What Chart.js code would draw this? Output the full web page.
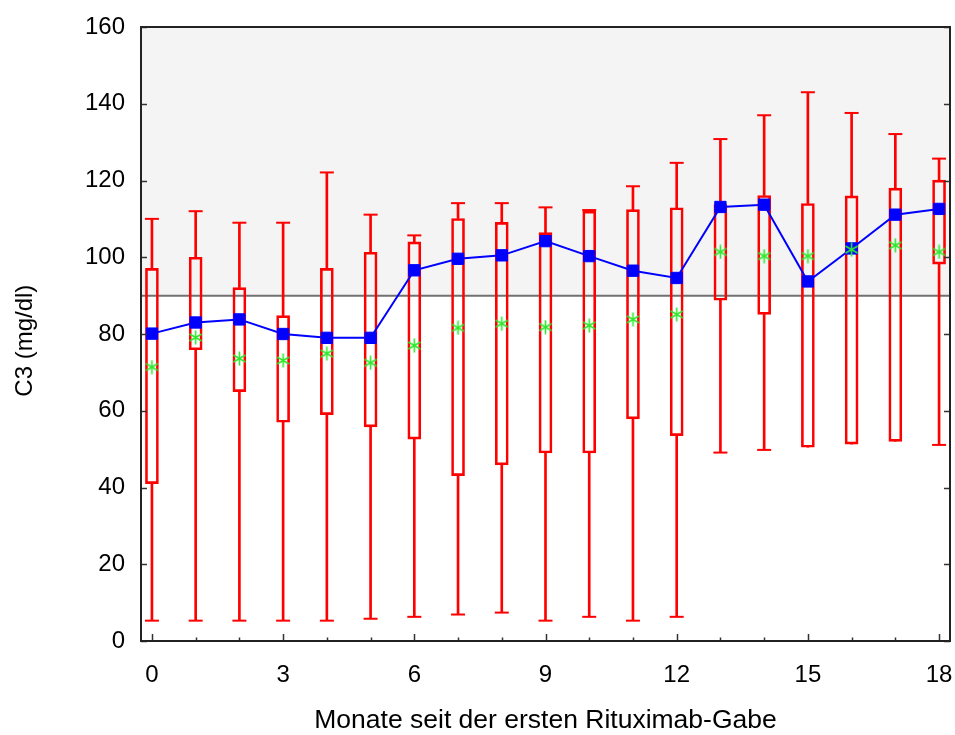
<!DOCTYPE html>
<html>
<head>
<meta charset="utf-8">
<script src="https://cdn.jsdelivr.net/npm/chart.js@4.4.0/dist/chart.umd.min.js"></script>
<style>
html,body{margin:0;padding:0;background:#ffffff;}
#wrap{width:955px;height:735px;}
</style>
</head>
<body>
<div id="wrap"><canvas id="c" width="955" height="735"></canvas></div>
<script>
// ---- data ----
const months       = [0,1,2,3,4,5,6,7,8,9,10,11,12,13,14,15,16,17,18];
const whiskerHigh  = [110.0,112.0,109.0,109.0,122.1,111.1,105.7,114.1,114.1,113.0,112.3,118.5,124.6,130.8,137.0,143.0,137.6,132.1,125.7];
const q3           = [97.1,100.0,92.1,84.8,97.1,101.3,104.0,110.1,109.1,106.4,112.0,112.4,112.9,113.7,116.1,114.0,116.0,118.0,120.1];
const median       = [80.1,83.0,83.8,80.0,79.0,79.0,96.6,99.6,100.5,104.2,100.3,96.5,94.6,113.1,113.7,93.7,102.3,111.1,112.6];
const mean         = [71.4,79.1,73.6,73.1,74.9,72.5,77.0,81.6,82.7,81.8,82.2,83.8,85.1,101.4,100.3,100.3,102.0,103.1,101.4];
const q1           = [41.0,75.9,65.0,57.0,59.0,55.8,52.6,43.1,45.9,49.0,49.0,57.9,53.5,88.8,85.1,50.5,51.3,52.0,98.2];
const whiskerLow   = [5.3,5.3,5.3,5.3,5.3,5.8,6.3,6.9,7.4,5.3,6.3,5.3,6.3,49.1,49.8,50.5,51.3,52.0,51.1];
const referenceLevel = 90;
const xTickLabels  = [0,3,6,9,12,15,18];
const xRange = [-0.25, 18.25];
const yRange = [0, 160];
const yStep = 20;

const FONT = "'Liberation Sans', Arial, Helvetica, sans-serif";
const RED = '#ff0000', BLUE = '#0000ff', GREEN = '#2ee82e';

function makeAsterisk(color, size, lw){
  const c = document.createElement('canvas');
  c.width = size; c.height = size;
  const g = c.getContext('2d');
  g.strokeStyle = color; g.lineWidth = lw; g.lineCap = 'butt';
  const cx = size/2, cy = size/2, r = size/2 - 0.5;
  for (let k = 0; k < 3; k++){
    const a = Math.PI/2 + k*Math.PI/3;
    g.beginPath();
    g.moveTo(cx + r*Math.cos(a), cy + r*Math.sin(a));
    g.lineTo(cx - r*Math.cos(a), cy - r*Math.sin(a));
    g.stroke();
  }
  return c;
}
const asterisk = makeAsterisk(GREEN, 15, 1.6);

const upperWhisker = months.map((m,i)=>({x:m, y:[q3[i], whiskerHigh[i]]}));
const lowerWhisker = months.map((m,i)=>({x:m, y:[whiskerLow[i], q1[i]]}));
const boxes        = months.map((m,i)=>({x:m, y:[q1[i], q3[i]]}));
const caps = [];
months.forEach((m,i)=>{
  if (whiskerHigh[i] > q3[i]) caps.push({x:m, y:whiskerHigh[i]});
  if (whiskerLow[i] < q1[i]) caps.push({x:m, y:whiskerLow[i]});
});
const medianPts = months.map((m,i)=>({x:m, y:median[i]}));
const meanPts   = months.map((m,i)=>({x:m, y:mean[i]}));
const refPts    = [{x:xRange[0], y:referenceLevel},{x:xRange[1], y:referenceLevel}];

const framePlugin = {
  id: 'frame',
  afterDraw(chart){
    const {ctx, chartArea:a, scales:{x, y}} = chart;
    ctx.save();
    ctx.strokeStyle = '#333333';
    ctx.lineWidth = 1.5;
    ctx.beginPath();
    x.ticks.forEach(t=>{
      const px = Math.round(x.getPixelForValue(t.value)) + 0.5;
      const len = (t.value % 3 === 0) ? 7 : 3.5;
      ctx.moveTo(px, a.bottom); ctx.lineTo(px, a.bottom - len);
    });
    y.ticks.forEach(t=>{
      const py = Math.round(y.getPixelForValue(t.value)) + 0.5;
      ctx.moveTo(a.left, py); ctx.lineTo(a.left + 6, py);
      ctx.moveTo(a.right, py); ctx.lineTo(a.right - 6, py);
    });
    ctx.stroke();
    ctx.strokeStyle = '#222222';
    ctx.lineWidth = 2;
    ctx.strokeRect(a.left, a.top, a.right - a.left, a.bottom - a.top);
    ctx.restore();
  }
};

new Chart(document.getElementById('c'), {
  type: 'bar',
  data: {
    datasets: [
      {type:'line', label:'ref', data: refPts, fill:'end', backgroundColor:'#f4f4f4',
       borderColor:'#707070', borderWidth:2, pointRadius:0, order:10},
      {type:'bar', label:'upper', data: upperWhisker, backgroundColor:RED, borderWidth:0,
       barThickness:2, grouped:false, order:8},
      {type:'bar', label:'lower', data: lowerWhisker, backgroundColor:RED, borderWidth:0,
       barThickness:2, grouped:false, order:8},
      {type:'bar', label:'box', data: boxes, backgroundColor:'rgba(0,0,0,0)', borderColor:RED,
       borderWidth:2, borderSkipped:false, barThickness:13, grouped:false, order:7},
      {type:'scatter', label:'caps', data: caps, pointStyle:'line', pointRadius:7,
       borderColor:RED, pointBorderColor:RED, pointBorderWidth:2, order:6},
      {type:'line', label:'median', data: medianPts, borderColor:BLUE, borderWidth:2,
       pointStyle:'rect', pointRadius:8, pointBackgroundColor:BLUE, pointBorderColor:BLUE,
       pointBorderWidth:1, tension:0, fill:false, order:2},
      {type:'scatter', label:'mean', data: meanPts, pointStyle: asterisk, pointRadius:7, order:1}
    ]
  },
  options: {
    responsive:false,
    animation:false,
    devicePixelRatio:1,
    layout:{autoPadding:false, padding:{top:27, right:5, left:0, bottom:0}},
    plugins:{legend:{display:false}, tooltip:{enabled:false}},
    scales:{
      x:{
        type:'linear', min:xRange[0], max:xRange[1], offset:false,
        grid:{display:false, drawTicks:false}, border:{display:false},
        ticks:{stepSize:1, includeBounds:false, autoSkip:false, maxRotation:0, padding:20,
               color:'#000', font:{family:FONT, size:24},
               callback:(v)=> xTickLabels.includes(v) ? String(v) : ''},
        title:{display:true, text:'Monate seit der ersten Rituximab-Gabe', color:'#000',
               font:{family:FONT, size:26.5, lineHeight:1}, padding:{top:0, bottom:1}},
        afterFit(s){ s.height = 94; s.paddingLeft = 0; s.paddingRight = 0; }
      },
      y:{
        type:'linear', min:yRange[0], max:yRange[1],
        grid:{display:false, drawTicks:false}, border:{display:false},
        ticks:{stepSize:yStep, padding:16, color:'#000', font:{family:FONT, size:24}},
        title:{display:true, text:'C3 (mg/dl)  ', color:'#000',
               font:{family:FONT, size:24, lineHeight:1}, padding:{top:13, bottom:0}},
        afterFit(s){ s.width = 141; s.paddingTop = 0; s.paddingBottom = 0; }
      }
    }
  },
  plugins:[framePlugin]
});
</script>
</body>
</html>
